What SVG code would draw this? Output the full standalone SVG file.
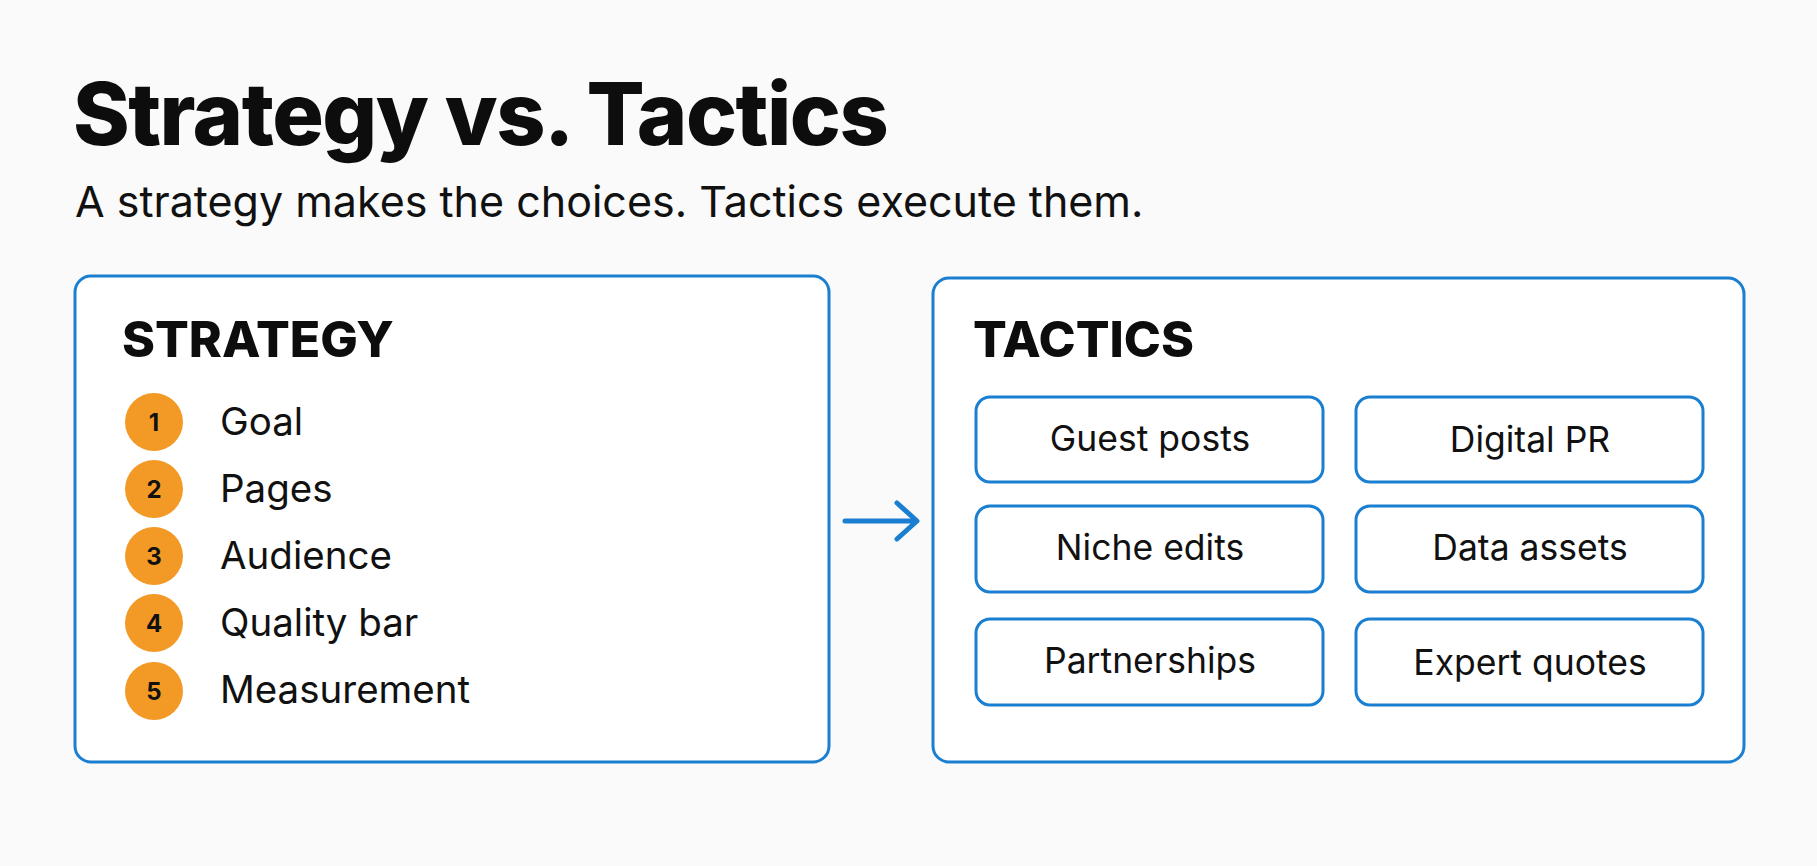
<svg xmlns="http://www.w3.org/2000/svg" width="1817" height="866" viewBox="0 0 1817 866">
<style>
.panel{fill:#fff;stroke:#1a7fd0;stroke-width:3}
.chip{fill:#fff;stroke:#1a7fd0;stroke-width:3}
.h{font-family:Inter,"Liberation Sans",sans-serif;font-weight:800;fill:#0d0d0d}
.t{font-family:Inter,"Liberation Sans",sans-serif;font-size:38.5px;fill:#111}
.ct{font-family:Inter,"Liberation Sans",sans-serif;font-size:35.5px;fill:#111;text-anchor:middle}
.num{fill:#f39a26}
.nt{font-family:Inter,"Liberation Sans",sans-serif;font-size:24px;font-weight:700;fill:#111;text-anchor:middle}
</style>
<rect width="1817" height="866" fill="#fafafa"/>
<text class="h" x="73" y="145" font-size="86" letter-spacing="-1.5">Strategy vs. Tactics</text>
<text class="t" x="75" y="217" style="font-size:43px">A strategy makes the choices. Tactics execute them.</text>
<g id="strategy">
<rect class="panel" x="75" y="276" width="754" height="486" rx="16"/>
<text class="h" x="122" y="357" font-size="50">STRATEGY</text>
<circle class="num" cx="154" cy="422" r="29"/><text class="nt" x="154" y="431">1</text><text class="t" x="220" y="435">Goal</text>
<circle class="num" cx="154" cy="489" r="29"/><text class="nt" x="154" y="498">2</text><text class="t" x="220" y="502">Pages</text>
<circle class="num" cx="154" cy="556" r="29"/><text class="nt" x="154" y="565">3</text><text class="t" x="220" y="569">Audience</text>
<circle class="num" cx="154" cy="623" r="29"/><text class="nt" x="154" y="632">4</text><text class="t" x="220" y="636">Quality bar</text>
<circle class="num" cx="154" cy="691" r="29"/><text class="nt" x="154" y="700">5</text><text class="t" x="220" y="703">Measurement</text>
</g>
<g id="tactics">
<rect class="panel" x="933" y="278" width="811" height="484" rx="16"/>
<text class="h" x="973" y="357" font-size="50">TACTICS</text>
<rect class="chip" x="976" y="397" width="347" height="85" rx="14"/><text class="ct" x="1150" y="451">Guest posts</text>
<rect class="chip" x="1356" y="397" width="347" height="85" rx="14"/><text class="ct" x="1530" y="452">Digital PR</text>
<rect class="chip" x="976" y="506" width="347" height="86" rx="14"/><text class="ct" x="1150" y="560">Niche edits</text>
<rect class="chip" x="1356" y="506" width="347" height="86" rx="14"/><text class="ct" x="1530" y="560">Data assets</text>
<rect class="chip" x="976" y="619" width="347" height="86" rx="14"/><text class="ct" x="1150" y="673">Partnerships</text>
<rect class="chip" x="1356" y="619" width="347" height="86" rx="14"/><text class="ct" x="1530" y="675">Expert quotes</text>
</g>
<g id="connectors" stroke="#1a7fd0" stroke-width="5" fill="none" stroke-linecap="round" stroke-linejoin="round">
<path d="M845 521H915M897 503L917 521L897 539"/>
</g>
</svg>
